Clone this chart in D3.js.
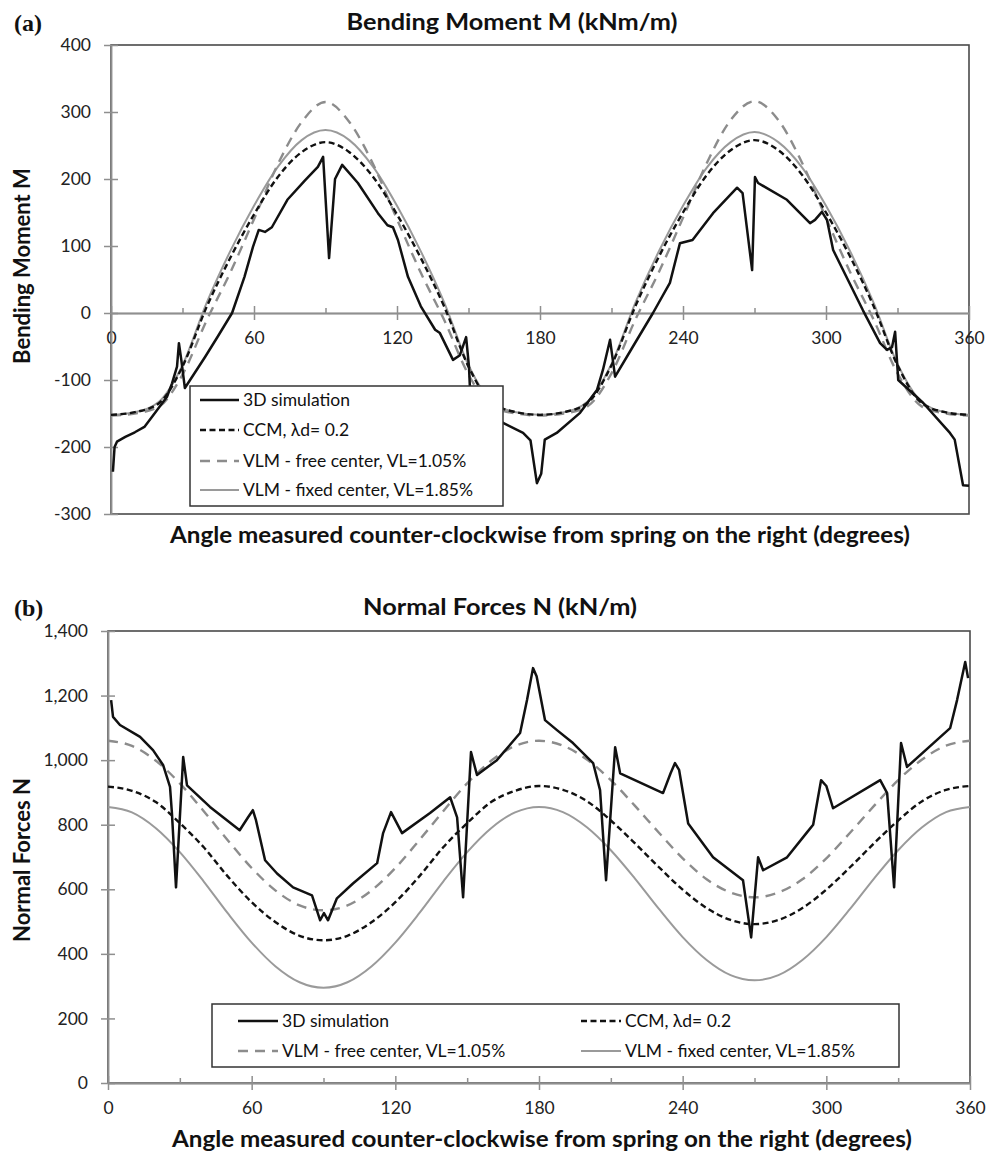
<!DOCTYPE html>
<html>
<head>
<meta charset="utf-8">
<script src="https://cdn.jsdelivr.net/npm/d3@7"></script>
<style>
  body { margin: 0; background: #ffffff; }
  svg { display: block; font-family: Lato, "Open Sans", sans-serif; }
  .tick text { font-family: Lato, "Open Sans", sans-serif; font-size: 17.5px; fill: #222; }
  .axis .domain, .axis line { stroke: #8f8f8f; stroke-width: 1.5; }
  .chartTitle { font-weight: bold; font-size: 23px; fill: #111; }
  .axisTitle { font-weight: bold; font-size: 22px; fill: #111; }
  .panelTag { font-family: "Liberation Serif", "DejaVu Serif", serif; font-weight: bold; font-size: 24px; fill: #111; }
  .legendText { font-size: 17.5px; fill: #111; }
</style>
</head>
<body>
<svg id="chart" width="1000" height="1154"></svg>
<script>

/*********************
***** CHART DATA *****
*********************/

// ticks
const xMajorTicks = [0, 60, 120, 180, 240, 300, 360];
const xMinorTicks = [30, 90, 150, 210, 270, 330];
const aYTicks = [-300, -200, -100, 0, 100, 200, 300, 400];
const bYTicks = [0, 200, 400, 600, 800, 1000, 1200, 1400];

// angles (degrees) at which the smooth analytical curves were read
const angles = [0, 10, 20, 30, 40, 50, 60, 70, 80, 90, 100, 110, 120, 130, 140, 150, 160, 170, 180,
                190, 200, 210, 220, 230, 240, 250, 260, 270, 280, 290, 300, 310, 320, 330, 340, 350, 360];

const seriesNames = ["3D simulation", "CCM, \u03bbd= 0.2",
                     "VLM - free center, VL=1.05%", "VLM - fixed center, VL=1.85%"];

// (a) bending moment, kNm/m
const aCCM = [-152, -148, -135, -80, 8, 82, 147, 203, 240, 255, 240, 203, 147, 82, 8, -80, -135, -148, -152,
              -148, -134, -78, 10, 85, 150, 206, 243, 258, 243, 206, 150, 85, 10, -78, -134, -148, -152];
const aFree = [-153, -150, -140, -92, -12, 60, 140, 222, 285, 315, 285, 222, 140, 60, -12, -92, -140, -150, -153,
               -150, -139, -90, -10, 62, 142, 224, 288, 316, 288, 224, 142, 62, -10, -90, -139, -150, -153];
const aFixed = [-152, -148, -133, -78, 14, 92, 160, 218, 258, 273, 258, 218, 160, 92, 14, -78, -133, -148, -152,
                -148, -132, -76, 15, 93, 160, 217, 255, 270, 255, 217, 160, 93, 15, -76, -132, -148, -152];

const aSimDeg = [0.8, 1.5, 2.5, 6, 10, 14, 18.5, 23.5, 25.6, 27.7, 28.5, 29.5, 31, 39.4, 45, 50.8, 56, 59.6, 62,
                 64.6, 67.5, 74, 81.4, 86.8, 89, 91.5, 94, 97, 103.6, 112, 116, 118.3, 120.4, 124.6, 130, 136,
                 138, 143.5, 146.4, 149, 150.2, 150.6, 157, 164.5, 172.9, 176, 178.7, 180.5, 182, 187, 196.8,
                 203.9, 206.4, 209.4, 211.5, 219, 227.4, 234.5, 238.7, 244, 252.6, 262.7, 265, 269, 270.2,
                 271.5, 283.6, 293.3, 295.4, 298.3, 300.4, 303, 315.5, 322.7, 325.6, 327.7, 329, 330.3, 340.7,
                 352, 354, 357.5, 360];
const aSimVal = [-237, -200, -192, -185, -178, -170, -149, -125, -105, -80, -45, -70, -112, -66, -34, 0, 54, 99, 124,
                 121, 128, 169, 198, 218, 233, 82, 200, 221, 194, 149, 131, 128, 109, 54, 10, -25,
                 -30, -70, -63, -36, -80, -112, -140, -164, -179, -190, -254, -240, -189, -179, -149,
                 -115, -85, -40, -95, -50, 0, 45, 104, 109, 149, 187, 179, 64, 203,
                 194, 169, 134, 139, 151, 139, 94, 4, -45, -55, -51, -28, -100, -134,
                 -179, -189, -257, -258];

// (b) normal forces, kN/m
const bCCM = [918, 905, 870, 805, 730, 640, 560, 498, 456, 442, 456, 498, 560, 640, 730, 805, 870, 905, 920,
              908, 873, 813, 743, 669, 599, 542, 505, 492, 505, 542, 599, 669, 743, 813, 873, 908, 920];
const bFree = [1060, 1044, 998, 928, 842, 752, 666, 596, 550, 535, 550, 596, 666, 752, 842, 928, 998, 1044, 1060,
               1045, 1002, 938, 859, 776, 696, 631, 590, 575, 590, 631, 696, 776, 859, 938, 1002, 1045, 1060];
const bFixed = [855, 838, 789, 715, 624, 526, 435, 361, 312, 295, 312, 361, 435, 526, 624, 715, 789, 838, 855,
                839, 792, 721, 634, 540, 452, 381, 334, 318, 334, 381, 452, 540, 634, 721, 792, 839, 855];

const bSimDeg = [1.3, 2.1, 5, 13.4, 18.8, 23, 25.9, 26.7, 28.4, 31.4, 33, 42.6, 55, 58.5, 60.5, 61.8, 65.6, 70.6,
                 77.3, 85.2, 88.6, 90.2, 91.9, 95.6, 102.3, 112.4, 114.9, 118.2, 122.8, 134.5, 142.9, 145.8,
                 148.3, 151.6, 154.1, 162.4, 172.1, 175, 177.5, 179, 182.5, 187.5, 194.2, 202.6, 205.5, 208,
                 211.8, 213.9, 231.8, 235, 236.8, 238.5, 242.3, 252.7, 265.2, 268.6, 271.5, 273.6, 283.6, 292,
                 294.5, 297.8, 300, 302.8, 322.5, 325.4, 328.3, 331.2, 333.7, 351.7, 354.6, 358, 359.2];
const bSimVal = [1186, 1134, 1109, 1072, 1031, 985, 917, 836, 606, 1010, 922, 855, 783, 823, 845, 814, 690, 649,
                 606, 581, 504, 526, 504, 572, 618, 681, 774, 839, 774, 836, 885, 823,
                 575, 1025, 954, 1000, 1084, 1186, 1285, 1260, 1124, 1093, 1053, 991, 907, 628,
                 1040, 959, 898, 960, 991, 970, 804, 699, 628, 451, 699, 659, 699, 777,
                 800, 938, 920, 851, 938, 898, 606, 1053, 979, 1099, 1186, 1304, 1254];

/**********************
***** BASIC SETUP *****
**********************/

const svg = d3.select("#chart");

// line looks, in legend order
const looks = [
    {stroke: "#111111", width: 2.5, dash: null},
    {stroke: "#111111", width: 2.4, dash: "6,3.5"},
    {stroke: "#8c8c8c", width: 2.4, dash: "10,7"},
    {stroke: "#9a9a9a", width: 2.0, dash: null}
];

function zip(xs, ys) {
    return xs.map((d, i) => ({deg: d, val: ys[i]}));
}

/*********************
***** DRAW PANEL *****
*********************/

function drawPanel(cfg) {

    const x = d3.scaleLinear().domain([0, 360]).range([cfg.left, cfg.right]);
    const y = d3.scaleLinear().domain(cfg.yDomain).range([cfg.bottom, cfg.top]);

    const g = svg.append("g");

    // plot area border
    g.append("rect")
        .attr("x", cfg.left)
        .attr("y", cfg.top)
        .attr("width", cfg.right - cfg.left)
        .attr("height", cfg.bottom - cfg.top)
        .attr("fill", "none")
        .attr("stroke", "#4a4a4a")
        .attr("stroke-width", 1.6);

    // x axis, ticks crossing the line
    const xAxisY = y(cfg.xAxisAt);
    g.append("g")
        .attr("class", "axis")
        .attr("transform", `translate(0, ${xAxisY})`)
        .call(d3.axisBottom(x).tickValues(xMajorTicks).tickSizeInner(7).tickSizeOuter(0)
            .tickPadding(12).tickFormat(d3.format("d")));
    g.append("g")
        .attr("class", "axis")
        .attr("transform", `translate(0, ${xAxisY})`)
        .call(d3.axisBottom(x).tickValues(xMajorTicks).tickSizeInner(-7).tickSizeOuter(0).tickFormat(""));
    g.append("g")
        .attr("class", "axis")
        .attr("transform", `translate(0, ${xAxisY})`)
        .call(d3.axisBottom(x).tickValues(xMinorTicks).tickSizeInner(-5).tickSizeOuter(0).tickFormat(""));

    // y axis
    g.append("g")
        .attr("class", "axis")
        .attr("transform", `translate(${cfg.left}, 0)`)
        .call(d3.axisLeft(y).tickValues(cfg.yTicks).tickSizeInner(7).tickSizeOuter(0)
            .tickPadding(13).tickFormat(cfg.yFormat));
    g.append("g")
        .attr("class", "axis")
        .attr("transform", `translate(${cfg.left}, 0)`)
        .call(d3.axisLeft(y).tickValues(cfg.yTicks).tickSizeInner(-7).tickSizeOuter(0).tickFormat(""));

    // curves (drawn fixed -> free -> ccm -> sim so the simulation sits on top)
    const smooth = d3.line().x(d => x(d.deg)).y(d => y(d.val)).curve(d3.curveMonotoneX);
    const jagged = d3.line().x(d => x(d.deg)).y(d => y(d.val));

    [3, 2, 1, 0].forEach(i => {
        const s = cfg.series[i];
        g.append("path")
            .datum(zip(s.deg, s.val))
            .attr("fill", "none")
            .attr("stroke", looks[i].stroke)
            .attr("stroke-width", looks[i].width)
            .attr("stroke-dasharray", looks[i].dash)
            .attr("stroke-linejoin", "round")
            .attr("d", i === 0 ? jagged : smooth);
    });

    // titles
    g.append("text")
        .attr("class", "chartTitle")
        .attr("x", cfg.titleX)
        .attr("y", cfg.titleY)
        .attr("text-anchor", "middle")
        .attr("textLength", cfg.titleW)
        .attr("lengthAdjust", "spacingAndGlyphs")
        .text(cfg.title);

    g.append("text")
        .attr("class", "panelTag")
        .attr("x", 14)
        .attr("y", cfg.titleY + 1)
        .text(cfg.tag);

    g.append("text")
        .attr("class", "axisTitle")
        .attr("x", cfg.xTitleX)
        .attr("y", cfg.xTitleY)
        .attr("text-anchor", "middle")
        .attr("textLength", 740)
        .attr("lengthAdjust", "spacingAndGlyphs")
        .text("Angle measured counter-clockwise from spring on the right (degrees)");

    g.append("text")
        .attr("class", "axisTitle")
        .attr("transform", `translate(30, ${cfg.yTitleY}) rotate(-90)`)
        .attr("text-anchor", "middle")
        .text(cfg.yTitle);

    // legend
    const lg = cfg.legend;
    g.append("rect")
        .attr("x", lg.x)
        .attr("y", lg.y)
        .attr("width", lg.w)
        .attr("height", lg.h)
        .attr("fill", "#ffffff")
        .attr("stroke", "#333")
        .attr("stroke-width", 1.5);

    lg.items.forEach((it, i) => {
        g.append("line")
            .attr("x1", it.x)
            .attr("x2", it.x + lg.sample)
            .attr("y1", it.y)
            .attr("y2", it.y)
            .attr("stroke", looks[i].stroke)
            .attr("stroke-width", looks[i].width)
            .attr("stroke-dasharray", looks[i].dash);
        g.append("text")
            .attr("class", "legendText")
            .attr("x", it.x + lg.sample + 4)
            .attr("y", it.y)
            .attr("dy", "0.35em")
            .text(seriesNames[i]);
    });
}

/*******************
***** PANEL A *****
*******************/

drawPanel({
    left: 111, right: 969, top: 45, bottom: 514,
    yDomain: [-300, 400], yTicks: aYTicks, yFormat: d => String(d), xAxisAt: 0,
    title: "Bending Moment M (kNm/m)", titleX: 512, titleY: 30, titleW: 331, tag: "(a)",
    xTitleX: 540, xTitleY: 543,
    yTitle: "Bending Moment M", yTitleY: 266,
    series: [
        {deg: aSimDeg, val: aSimVal},
        {deg: angles, val: aCCM},
        {deg: angles, val: aFree},
        {deg: angles, val: aFixed}
    ],
    legend: {
        x: 190, y: 386, w: 313, h: 120, sample: 39,
        items: [{x: 200, y: 400}, {x: 200, y: 430}, {x: 200, y: 461}, {x: 200, y: 490}]
    }
});

/*******************
***** PANEL B *****
*******************/

drawPanel({
    left: 108, right: 970, top: 631, bottom: 1083,
    yDomain: [0, 1400], yTicks: bYTicks, yFormat: d3.format(","), xAxisAt: 0,
    title: "Normal Forces N (kN/m)", titleX: 500, titleY: 615, titleW: 274, tag: "(b)",
    xTitleX: 542, xTitleY: 1147,
    yTitle: "Normal Forces N", yTitleY: 860,
    series: [
        {deg: bSimDeg, val: bSimVal},
        {deg: angles, val: bCCM},
        {deg: angles, val: bFree},
        {deg: angles, val: bFixed}
    ],
    legend: {
        x: 212, y: 1004, w: 687, h: 63, sample: 40,
        items: [{x: 238, y: 1021}, {x: 581, y: 1021}, {x: 238, y: 1051}, {x: 581, y: 1051}]
    }
});

</script>
</body>
</html>
